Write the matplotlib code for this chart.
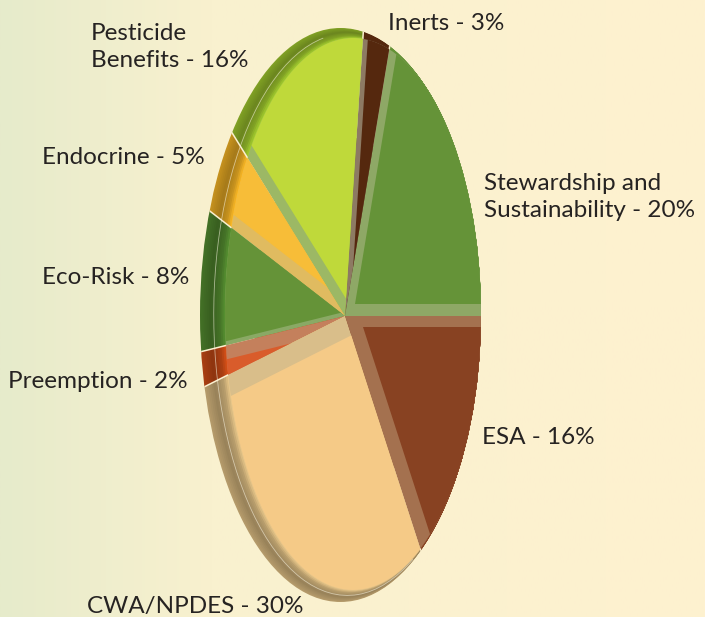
import matplotlib
matplotlib.use('Agg')
import matplotlib.pyplot as plt
import numpy as np
from matplotlib.colors import to_rgb
from matplotlib.patches import Arc, Ellipse, Polygon
from matplotlib.transforms import Affine2D

# slices, counter clockwise from 3 o'clock
names = ['Stewardship', 'Inerts', 'Pesticide Benefits', 'Endocrine', 'Eco-Risk',
         'Preemption', 'CWA/NPDES', 'ESA']
values = [20, 3, 16, 5, 8, 2, 30, 16]

labels = ['Stewardship and\nSustainability - 20%', 'Inerts - 3%', 'Pesticide\nBenefits - 16%',
          'Endocrine - 5%', 'Eco-Risk - 8%', 'Preemption - 2%', 'CWA/NPDES - 30%', 'ESA - 16%']
label_pos = [(484, 197), (388, 24), (91, 47), (42, 158), (42, 278), (8, 381), (87, 606), (482, 437)]

face_colors = ['#659338', '#55280e', '#bfd93a', '#f7bd38', '#659338', '#d95c2b', '#f5ca87', '#884222']
bevel_colors = ['#8ea866', '#8d7a63', '#9cb865', '#e0bb60', '#8aa965', '#c4805c', '#d9be8a', '#a4714f']
rim_colors = ['#659338', '#55280e', '#7f9f24', '#c4901e', '#437026', '#a83e12', '#b49a6a', '#884222']
rim_shade = [0, 0, 1, 1, 1, 1, 1, 0]

# how far each face sits from the pie apex, pixels (right, up)
face_shift = [(10, 12), (5, 0), (8, 6), (10, 7), (3, 5), (0, -14), (7, -19), (18, -11)]

W, H = 705, 617
APEX = (345, H - 316)
SX, SY = 153, 300      # the pie is a squashed circle
OUTER = (340.5, H - 315, 140.5, 287)
INNER = (353, H - 314, 128, 276)


def squash(apex=APEX):
    return Affine2D().scale(SX, SY).translate(apex[0], apex[1]) + ax.transData


def ellipse_clip(e):
    return Ellipse((e[0], e[1]), 2 * e[2], 2 * e[3], transform=ax.transData)


def draw_pie(colors, e, apex=APEX, z=1):
    wedges, _ = ax.pie(values, colors=colors, startangle=0, radius=1.2,
                       wedgeprops={'transform': squash(apex), 'linewidth': 0, 'zorder': z})
    for w in wedges:
        w.set_clip_on(True)
        w.set_clip_path(ellipse_clip(e))
    return wedges


def outline(t1, t2, e):
    # apex + the arc of ellipse e seen from the apex, between two pie angles
    pts = [APEX]
    for t in np.radians(np.linspace(t1, t2, 60)):
        ux, uy = SX * np.cos(t), SY * np.sin(t)
        ox, oy = APEX[0] - e[0], APEX[1] - e[1]
        A = (ux / e[2]) ** 2 + (uy / e[3]) ** 2
        B = 2 * (ux * ox / e[2] ** 2 + uy * oy / e[3] ** 2)
        C = (ox / e[2]) ** 2 + (oy / e[3]) ** 2 - 1
        r = (-B + np.sqrt(B * B - 4 * A * C)) / (2 * A)
        pts.append((APEX[0] + r * ux, APEX[1] + r * uy))
    return pts


def shaded(col, amount, on):
    c = np.array(to_rgb(col))
    if not on:
        return tuple(c)
    return tuple(np.clip(c * amount, 0, 1))


fig = plt.figure(figsize=(7.05, 6.17), dpi=100)
ax = fig.add_axes([0, 0, 1, 1])

# background wash
bg_left = np.array(to_rgb('#e6ebcb'))
bg_mid = np.array(to_rgb('#f9f1cf'))
bg_right = np.array(to_rgb('#fef1d0'))
xs = np.linspace(0, 1, 400)
wash = np.array([bg_left + (bg_mid - bg_left) * x / 0.3 if x < 0.3 else
                 bg_mid + (bg_right - bg_mid) * (x - 0.3) / 0.7 for x in xs])
ax.imshow(wash[np.newaxis, :, :], extent=(0, W, 0, H), aspect='auto', zorder=0,
          interpolation='bilinear')

# rounded rim, from the outer edge going in
steps = np.linspace(0, 0.97, 14)
amounts = np.interp(steps, [0, 0.4, 0.75, 0.97], [1.0, 0.84, 1.02, 1.3])
for f, amount in zip(steps, amounts):
    e = tuple(np.array(OUTER) + (np.array(INNER) - np.array(OUTER)) * f)
    cols = [shaded(c, amount, s) for c, s in zip(rim_colors, rim_shade)]
    draw_pie(cols, e, z=1)

# pale hairline running round the rim
mid = np.array(OUTER) + (np.array(INNER) - np.array(OUTER)) * 0.55
ax.add_patch(Arc((mid[0], mid[1]), 2 * mid[2], 2 * mid[3], theta1=95, theta2=285,
                 color='#f4f0dc', lw=0.6, alpha=0.6, zorder=1.5))

# thin gaps between the slices, only seen on the rim
start = 0
for v in values:
    t = np.radians(start)
    ax.plot([APEX[0] + SX * 0.6 * np.cos(t), APEX[0] + SX * 1.1 * np.cos(t)],
            [APEX[1] + SY * 0.6 * np.sin(t), APEX[1] + SY * 1.1 * np.sin(t)],
            color='#fbf0d0', lw=1.1, zorder=1.6, clip_on=True, clip_path=ellipse_clip(OUTER))
    start += v * 3.6

# bevel and flat face of each slice
wedges = draw_pie(bevel_colors, INNER, z=2)
for w, col, (dx, dy) in zip(wedges, face_colors, face_shift):
    face, _ = ax.pie([1], colors=[col], radius=1.2, startangle=w.theta1,
                     wedgeprops={'transform': squash((APEX[0] + dx, APEX[1] + dy)),
                                 'linewidth': 0, 'zorder': 3})
    face = face[0]
    face.set_theta1(w.theta1)
    face.set_theta2(w.theta2)
    face.set_clip_on(True)
    clip = Polygon(outline(w.theta1, w.theta2, INNER), closed=True, transform=ax.transData)
    face.set_clip_path(clip)

plt.rcParams['font.family'] = ['Lato', 'DejaVu Sans']
for text, (x, y) in zip(labels, label_pos):
    ax.text(x, H - y, text, fontsize=17.5, color='#262322', family='Lato', ha='left', va='center',
            linespacing=1.33, zorder=5)

ax.set_aspect('auto')
ax.set_xlim(0, W)
ax.set_ylim(0, H)
ax.axis('off')
fig.savefig('out.png', dpi=100)
